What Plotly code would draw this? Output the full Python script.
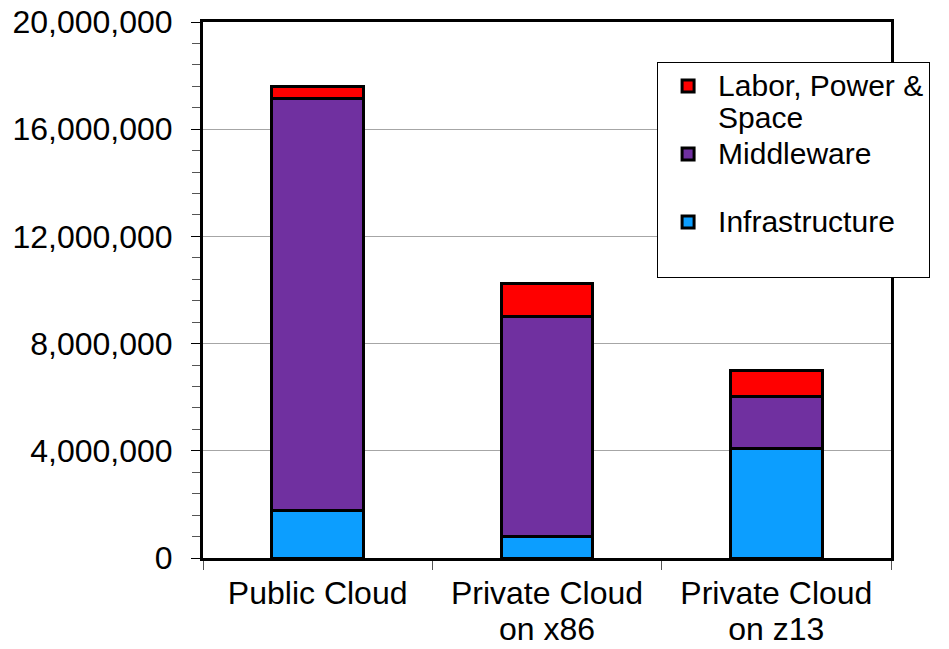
import plotly.graph_objects as go

categories = ["Public Cloud", "Private Cloud<br>on x86", "Private Cloud<br>on z13"]
infrastructure = [1790000, 820000, 4080000]
middleware = [15360000, 8180000, 1960000]
labor = [460000, 1250000, 940000]

series_names = ["Infrastructure<br> ", "Middleware<br> ", "Labor, Power &<br>Space"]
series_values = [infrastructure, middleware, labor]
series_colors = ["#0C9EFF", "#7030A0", "#FF0000"]

y_ticks = [0, 4000000, 8000000, 12000000, 16000000, 20000000]
y_tick_labels = ["0", "4,000,000", "8,000,000", "12,000,000", "16,000,000", "20,000,000"]

FONT = "Liberation Sans, Arial, sans-serif"


def big(s, px):
    return "<br>".join('<span style="font-size:%dpx">%s</span>' % (px, part) for part in s.split("<br>"))


fig = go.Figure()
for name, vals, col in zip(series_names, series_values, series_colors):
    fig.add_trace(go.Bar(
        x=categories, y=vals, name=big(name, 30),
        marker=dict(color=col, line=dict(color="black", width=3)),
    ))

fig.update_layout(
    width=949, height=649,
    margin=dict(l=203, r=58, t=22, b=91, autoexpand=False),
    paper_bgcolor="white", plot_bgcolor="white",
    barmode="stack", bargap=0.6,
    font=dict(family=FONT, size=32, color="black"),
    showlegend=True,
    legend=dict(
        x=0.66, y=0.925, xanchor="left", yanchor="top",
        bgcolor="white", bordercolor="black", borderwidth=1,
        font=dict(family=FONT, size=25, color="black"),
        traceorder="reversed", valign="top",
        itemwidth=50, tracegroupgap=0,
        entrywidth=280,
    ),
    xaxis=dict(
        type="category", categoryorder="array", categoryarray=categories,
        tickvals=categories, ticktext=[big(c, 32) for c in categories],
        range=[-0.5, 2.5], automargin=False,
        showline=True, linecolor="black", linewidth=3, mirror=True,
        ticks="outside", tickson="boundaries", ticklen=9, tickcolor="#555555", tickwidth=1,
        showgrid=False, ticklabelstandoff=11,
        tickfont=dict(family=FONT, size=27, color="black"),
    ),
    xaxis2=dict(
        type="category", categoryorder="array", categoryarray=categories,
        range=[-0.5, 2.5], overlaying="x", anchor="y", side="bottom",
        showticklabels=False, ticks="inside", ticklen=7, tickcolor="#333333", tickwidth=1,
        showgrid=False, showline=False, matches="x", automargin=False,
    ),
    yaxis=dict(
        range=[0, 20000000], automargin=False,
        tickvals=y_ticks, ticktext=y_tick_labels,
        showline=True, linecolor="black", linewidth=3, mirror=True,
        ticks="outside", ticklen=9, tickcolor="black", tickwidth=1,
        minor=dict(dtick=800000, ticks="outside", ticklen=8, tickcolor="#555555", tickwidth=1, showgrid=False),
        showgrid=True, gridcolor="#A6A6A6", gridwidth=1,
        zeroline=False,
        ticklabelstandoff=12,
        tickfont=dict(family=FONT, size=32, color="black"),
    ),
)

fig.write_html("out.html")
